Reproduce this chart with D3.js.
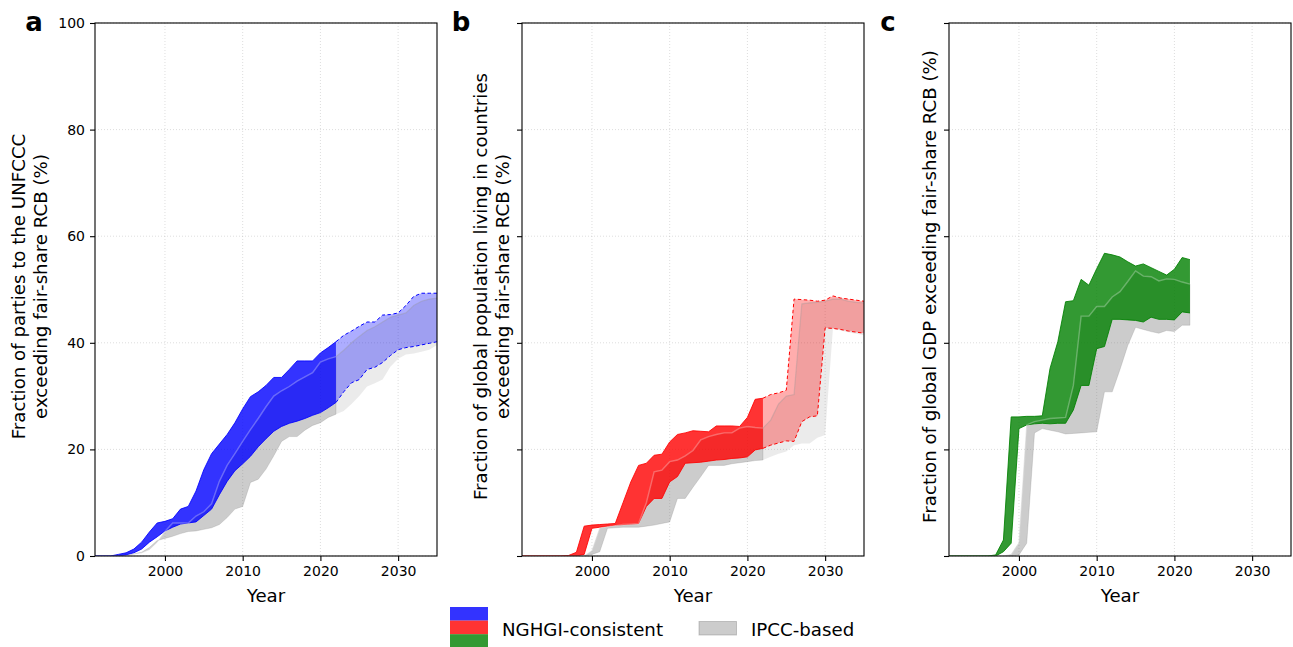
<!DOCTYPE html>
<html>
<head>
<meta charset="utf-8">
<script src="https://cdn.jsdelivr.net/npm/d3@7"></script>
<style>
  body { margin: 0; background: #fff; }
  text { font-family: "DejaVu Sans", sans-serif; fill: #000; }
</style>
</head>
<body>
<div id="chart"></div>
<script>
// years: 1991-2035 for panels a and b, 1991-2022 for panel c
const yearsLong = d3.range(1991, 2036);
const yearsShort = d3.range(1991, 2023);
const lastHistYear = 2022;

// a: parties to the UNFCCC (%)
const partiesHi = [0, 0, 0, 0.3, 0.6, 1.3, 2.6, 4.5, 6.2, 6.5,
  7.0, 8.8, 9.3, 12.2, 16.2, 19.2, 21, 22.8, 25, 27.6,
  29.9, 30.8, 32, 33.5, 33.5, 35, 36.6, 36.6, 36.6, 38.1,
  39.1, 40.2, 41.4, 42.2, 43.1, 43.9, 43.9, 45.2, 45.3, 45.6,
  47, 48.7, 49.3, 49.3, 49.3];
const partiesLo = [0, 0, 0, 0, 0.2, 0.6, 1.3, 2.6, 3.6, 4.7,
  5.4, 6.0, 6.2, 6.4, 7.6, 8.8, 11.5, 14, 16, 17.3,
  18.7, 20.5, 22, 23.4, 24.3, 24.9, 25.3, 25.8, 26.4, 26.9,
  27.8, 28.8, 30.8, 32.5, 33.1, 35, 35.4, 36.3, 37.6, 38.7,
  39.1, 39.3, 39.6, 39.9, 40.2];
const partiesIpccHi = [0, 0, 0, 0, 0, 0.4, 0.6, 1.2, 2.6, 4.6,
  6.2, 6.2, 6.2, 7.5, 8.3, 9.8, 14, 17, 19.2, 21.5,
  23.7, 25.8, 28, 30, 31, 31.8, 32.8, 33.6, 34.4, 36.4,
  37, 37.4, 38.6, 40, 41.2, 42.3, 43, 43.9, 44.8, 45.2,
  45.6, 47, 47.8, 48.2, 48.4];
const partiesIpccLo = [0, 0, 0, 0, 0, 0.4, 0.7, 1.6, 2.9, 3.3,
  3.7, 4.2, 4.6, 4.7, 5.0, 5.3, 5.9, 7.2, 8.8, 9.3,
  13.8, 14.4, 16.3, 18.8, 21.5, 22.4, 22.4, 23.6, 24.5, 25,
  26, 26.6, 27.2, 28.5, 30, 31.8, 32.4, 33.1, 35.5, 37,
  37.8, 38, 38.3, 38.7, 39.6];

// b: global population (%)
const popHi = [0, 0, 0, 0, 0, 0, 0.1, 0.7, 5.6, 5.8,
  5.9, 6.0, 6.1, 10, 13.9, 17, 17.4, 18.9, 19.1, 21.4,
  22.8, 23.1, 23.5, 23.4, 23.3, 24.4, 24.4, 24.4, 24.3, 26,
  29.4, 29.6, 30.3, 30.6, 31.1, 48.2, 48.1, 48, 47.8, 48,
  48.8, 48.4, 48.2, 48, 47.8];
const popLo = [0, 0, 0, 0, 0, 0, 0, 0, 0.3, 5.2,
  5.4, 5.6, 5.8, 5.9, 6.0, 6.1, 9.3, 10.8, 10.8, 13.9,
  14.9, 17.4, 17.5, 17.6, 17.8, 18, 18.1, 18.3, 18.4, 18.6,
  19.9, 20.2, 20.8, 21.2, 21.6, 21.5, 25.2, 26.1, 26.3, 42.8,
  42.7, 42.5, 42.2, 42, 41.8];
const popIpccHi = [0, 0, 0, 0, 0, 0, 0, 0, 0, 1,
  5.2, 5.5, 5.7, 5.9, 6.0, 6.1, 10, 15.8, 16.1, 17.7,
  18, 18.8, 19.8, 21.8, 22.4, 22.8, 23.1, 23.1, 24, 24.3,
  24.1, 24, 25.5, 28.5, 30, 30.3, 47.3, 47.5, 47.6, 47.8,
  48.2, 48.2, 47.8, 47.6, 47.5];
const popIpccLo = [0, 0, 0, 0, 0, 0, 0, 0, 0, 0.3,
  0.8, 5.2, 5.3, 5.4, 5.4, 5.4, 5.6, 5.8, 6.1, 6.4,
  10.8, 10.8, 12.9, 14.9, 17, 17, 17, 17.3, 17.5, 17.7,
  17.9, 18, 18.6, 19.2, 19.6, 20.8, 21.1, 21.1, 22.2, 22.7,
  42.7, 42.3, 42, 41.7, 41.4];

// c: global GDP (%)
const gdpHi = [0, 0, 0, 0, 0, 0, 0.2, 3, 26.1, 26.1,
  26.2, 26.2, 26.3, 35.2, 40.2, 47.7, 47.9, 51.9, 50.8, 53.9,
  56.8, 56.5, 56.1, 55.2, 54.4, 54.8, 54.1, 53.4, 52.7, 53.8,
  56, 55.6];
const gdpLo = [0, 0, 0, 0, 0, 0, 0, 0.8, 2.4, 23.9,
  24.6, 24.8, 24.9, 24.8, 24.9, 24.9, 27.4, 32, 32, 38.9,
  39.3, 44.4, 44.4, 44.3, 44.2, 43.9, 44.8, 44.4, 44.4, 44.3,
  45.8, 45.6];
const gdpIpccHi = [0, 0, 0, 0, 0, 0, 0, 0, 0.3, 2.5,
  24.6, 25.2, 25.5, 25.8, 25.9, 26, 32, 45, 45, 46.8,
  46.8, 48.6, 49.6, 51.5, 53.5, 52.5, 52.4, 51.6, 52, 51.9,
  51.4, 51];
const gdpIpccLo = [0, 0, 0, 0, 0, 0, 0, 0, 0, 0.2,
  2.4, 23.1, 23.9, 23.6, 23.3, 22.9, 23, 23.1, 23.2, 23.3,
  30.8, 30.8, 35, 39.5, 42.9, 42.5, 42.1, 41.8, 42.3, 42.1,
  43.3, 43.3];

const xTicks = [2000, 2010, 2020, 2030];
const yTicks = [0, 20, 40, 60, 80, 100];
const legendLabels = ['NGHGI-consistent', 'IPCC-based'];

// layout
const width = 1293, height = 647;
const plotTop = 23, plotBottom = 556, plotW = 342;
const labelSize = '18.2px';

const panels = [
  { letter: 'a', left: 95, color: '#0000ff', years: yearsLong,
    hi: partiesHi, lo: partiesLo, ipccHi: partiesIpccHi, ipccLo: partiesIpccLo,
    ylabel: ['Fraction of parties to the UNFCCC', 'exceeding fair-share RCB (%)'], showY: true },
  { letter: 'b', left: 522, color: '#ff0000', years: yearsLong,
    hi: popHi, lo: popLo, ipccHi: popIpccHi, ipccLo: popIpccLo,
    ylabel: ['Fraction of global population living in countries', 'exceeding fair-share RCB (%)'], showY: false },
  { letter: 'c', left: 949, color: '#008000', years: yearsShort,
    hi: gdpHi, lo: gdpLo, ipccHi: gdpIpccHi, ipccLo: gdpIpccLo,
    ylabel: ['Fraction of global GDP exceeding fair-share RCB (%)'], showY: false }
];

const svg = d3.select('#chart')
    .append('svg')
    .attr('width', width)
    .attr('height', height);

const x = d3.scaleLinear().domain([1991, 2035]).range([0, plotW]);
const y = d3.scaleLinear().domain([0, 100]).range([plotBottom - plotTop, 0]);
const ph = plotBottom - plotTop;

panels.forEach((p, i) => {
    const rows = p.years.map((yr, k) => ({
        year: yr, hi: p.hi[k], lo: p.lo[k], ihi: p.ipccHi[k], ilo: p.ipccLo[k]
    }));
    const hist = rows.filter(d => d.year <= lastHistYear);
    const proj = rows.filter(d => d.year >= lastHistYear);

    const g = svg.append('g').attr('transform', `translate(${p.left},${plotTop})`);

    svg.append('defs').append('clipPath').attr('id', 'clip' + i)
        .append('rect').attr('width', plotW).attr('height', ph);

    // 그리드
    const grid = g.append('g');
    grid.selectAll('.gx').data(xTicks).enter().append('line')
        .attr('x1', d => x(d)).attr('x2', d => x(d)).attr('y1', 0).attr('y2', ph)
        .attr('stroke', '#b0b0b0').attr('stroke-opacity', 0.55)
        .attr('stroke-width', 0.8).attr('stroke-dasharray', '1,2');
    grid.selectAll('.gy').data(yTicks).enter().append('line')
        .attr('x1', 0).attr('x2', plotW).attr('y1', d => y(d)).attr('y2', d => y(d))
        .attr('stroke', '#b0b0b0').attr('stroke-opacity', 0.55)
        .attr('stroke-width', 0.8).attr('stroke-dasharray', '1,2');

    const body = g.append('g').attr('clip-path', `url(#clip${i})`);

    const ipccArea = d3.area().x(d => x(d.year)).y0(d => y(d.ilo)).y1(d => y(d.ihi));
    const bandArea = d3.area().x(d => x(d.year)).y0(d => y(d.lo)).y1(d => y(d.hi));
    const lineHi = d3.line().x(d => x(d.year)).y(d => y(d.hi));
    const lineLo = d3.line().x(d => x(d.year)).y(d => y(d.lo));
    const lineIpccHi = d3.line().x(d => x(d.year)).y(d => y(d.ihi));

    // IPCC 밴드
    body.append('path').datum(hist).attr('d', ipccArea)
        .attr('fill', '#808080').attr('fill-opacity', 0.4)
        .attr('stroke', '#808080').attr('stroke-opacity', 0.3).attr('stroke-width', 0.8);
    if (proj.length > 1) {
        body.append('path').datum(proj).attr('d', ipccArea)
            .attr('fill', '#808080').attr('fill-opacity', 0.16);
    }

    // NGHGI 밴드
    body.append('path').datum(hist).attr('d', bandArea)
        .attr('fill', p.color).attr('fill-opacity', 0.8);
    [lineHi, lineLo].forEach(fn => {
        body.append('path').datum(hist).attr('d', fn)
            .attr('fill', 'none').attr('stroke', p.color)
            .attr('stroke-opacity', 0.85).attr('stroke-width', 1);
    });
    body.append('path').datum(hist).attr('d', lineIpccHi)
        .attr('fill', 'none').attr('stroke', '#fff')
        .attr('stroke-opacity', 0.3).attr('stroke-width', 1.4);

    if (proj.length > 1) {
        body.append('path').datum(proj).attr('d', bandArea)
            .attr('fill', p.color).attr('fill-opacity', 0.32);
        body.append('path').datum(proj).attr('d', lineIpccHi)
            .attr('fill', 'none').attr('stroke', '#999')
            .attr('stroke-opacity', 0.35).attr('stroke-width', 1.2);
        [lineHi, lineLo].forEach(fn => {
            body.append('path').datum(proj).attr('d', fn)
                .attr('fill', 'none').attr('stroke', p.color)
                .attr('stroke-width', 1).attr('stroke-dasharray', '3.5,2.5');
        });
    }

    // 축
    const xAxis = g.append('g').attr('transform', `translate(0,${ph})`)
        .call(d3.axisBottom(x).tickValues(xTicks).tickFormat(d3.format('d'))
            .tickSize(5).tickPadding(5));
    const yAxis = g.append('g')
        .call(d3.axisLeft(y).tickValues(yTicks)
            .tickFormat(p.showY ? d3.format('d') : () => '')
            .tickSize(5).tickPadding(5));
    [xAxis, yAxis].forEach(a => {
        a.select('.domain').remove();
        a.selectAll('line').attr('stroke', '#000').attr('stroke-width', 1.1);
        a.selectAll('text').style('font-size', '14px')
            .style('font-family', '"DejaVu Sans", sans-serif').attr('fill', '#000');
    });

    // 테두리
    g.append('rect').attr('width', plotW).attr('height', ph)
        .attr('fill', 'none').attr('stroke', '#000').attr('stroke-width', 1.1);

    // 축 레이블
    g.append('text')
        .attr('x', plotW / 2).attr('y', ph + 46)
        .attr('text-anchor', 'middle')
        .style('font-size', labelSize)
        .text('Year');

    const nLines = p.ylabel.length;
    const labelRight = p.showY ? -55 : -20;
    p.ylabel.forEach((t, k) => {
        const cx = labelRight - (nLines - 1 - k) * 21.5;
        g.append('text')
            .attr('transform', `translate(${cx},${ph / 2 - 3}) rotate(-90)`)
            .attr('text-anchor', 'middle')
            .attr('dominant-baseline', 'central')
            .style('font-size', labelSize)
            .text(t);
    });

    // 패널 문자
    svg.append('text')
        .attr('x', p.left - 61).attr('y', 31)
        .attr('text-anchor', 'middle')
        .style('font-size', '26px').style('font-weight', 'bold')
        .text(p.letter);
});

// 범례
const legend = svg.append('g');
panels.forEach((p, k) => {
    legend.append('rect')
        .attr('x', 450).attr('y', 607 + k * 13.6)
        .attr('width', 38).attr('height', 13.6)
        .attr('fill', p.color).attr('fill-opacity', 0.8);
});
legend.append('text').attr('x', 502).attr('y', 629)
    .attr('dominant-baseline', 'central')
    .style('font-size', labelSize).text(legendLabels[0]);
legend.append('rect')
    .attr('x', 699).attr('y', 621.5).attr('width', 37.5).attr('height', 13.5)
    .attr('fill', '#808080').attr('fill-opacity', 0.4)
    .attr('stroke', '#808080').attr('stroke-opacity', 0.4);
legend.append('text').attr('x', 751).attr('y', 629)
    .attr('dominant-baseline', 'central')
    .style('font-size', labelSize).text(legendLabels[1]);
</script>
</body>
</html>
